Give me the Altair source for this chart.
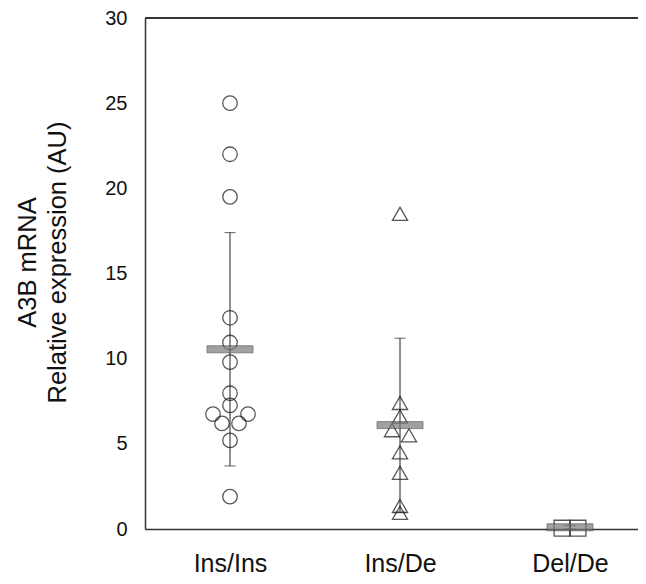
import altair as alt
import pandas as pd

groups = ["Ins/Ins", "Ins/De", "Del/De"]

ins_ins_vals = [25, 22, 19.5, 12.4, 10.95, 9.8, 7.97, 7.26, 6.74, 6.74, 6.2, 6.2, 5.2, 1.9]
ins_ins_jit = [0, 0, 0, 0, 0, 0, 0, 0, -17, 18, -8, 9, 0, 0]

ins_de_vals = [18.5, 7.4, 6.6, 5.8, 5.5, 4.5, 3.3, 1.35, 0.95]
ins_de_jit = [0, 0, 0, -8, 9, 0, 0, 0, 0]

del_de_vals = [0.05, 0.05]
del_de_jit = [-8, 8]

means = [10.55, 6.1, 0.1]
sds = [6.85, 5.1, 0.1]

shapes = ["circle", "triangle-up", "square"]

rows = []
for g, vals, jit in zip(groups, [ins_ins_vals, ins_de_vals, del_de_vals],
                        [ins_ins_jit, ins_de_jit, del_de_jit]):
    for v, j in zip(vals, jit):
        rows.append({"group": g, "value": v, "jitter": j})
pts = pd.DataFrame(rows)

summ = pd.DataFrame({
    "group": groups,
    "mean": means,
    "lo": [m - s for m, s in zip(means, sds)],
    "hi": [m + s for m, s in zip(means, sds)],
})

FONT = "Liberation Sans"

xenc = alt.X("group:N", sort=groups,
             scale=alt.Scale(type="point", range=[0, 510], padding=0.5),
             axis=alt.Axis(title=None, ticks=False, labelFontSize=25, labelFont=FONT,
                           labelColor="#111", labelPadding=22, labelAngle=0,
                           domainColor="#333", domainWidth=1.5))
yscale = alt.Scale(domain=[0, 30], nice=False)
yaxis = alt.Axis(values=[0, 5, 10, 15, 20, 25, 30], grid=False, ticks=False,
                 labelFontSize=20, labelFont=FONT, labelColor="#111", labelPadding=18,
                 domainColor="#333", domainWidth=1.5,
                 title=["A3B mRNA", "Relative expression (AU)"],
                 titleFont=FONT, titleFontSize=25.5, titleFontWeight="normal",
                 titleColor="#111", titleLineHeight=30, titlePadding=34, titleY=244)

base_s = alt.Chart(summ)

err = base_s.mark_rule(color="#222", strokeWidth=1).encode(
    x=xenc, y=alt.Y("lo:Q", scale=yscale, axis=yaxis), y2="hi:Q")
cap_hi = base_s.mark_tick(color="#222", size=11, thickness=1).encode(
    x=xenc, y=alt.Y("hi:Q", scale=yscale))
cap_lo = base_s.mark_tick(color="#222", size=11, thickness=1).encode(
    x=xenc, y=alt.Y("lo:Q", scale=yscale))

points = alt.Chart(pts).mark_point(filled=False, color="#111", strokeWidth=1.3).encode(
    x=xenc,
    xOffset=alt.XOffset("jitter:Q", scale=None),
    y=alt.Y("value:Q", scale=yscale),
    shape=alt.Shape("group:N", scale=alt.Scale(domain=groups, range=shapes), legend=None),
    size=alt.Size("group:N", scale=alt.Scale(domain=groups, range=[210, 250, 170]), legend=None),
)

mean_bar = base_s.mark_tick(size=46, thickness=7, color="#7a7a7a",
                            stroke="#333", strokeWidth=0.8).encode(
    x=xenc, y=alt.Y("mean:Q", scale=yscale))

top_line = alt.Chart(summ).mark_rule(color="#333", strokeWidth=1.5).encode(
    y=alt.datum(30))

chart = alt.layer(err, cap_hi, cap_lo, points, mean_bar, top_line).properties(
    width=493, height=511,
    autosize=alt.AutoSizeParams(type="none"),
    padding={"left": 137, "top": 10, "right": 0, "bottom": 47},
).configure_view(stroke=None)

chart.save("out.html", embed_options={"renderer": "svg", "actions": False})
